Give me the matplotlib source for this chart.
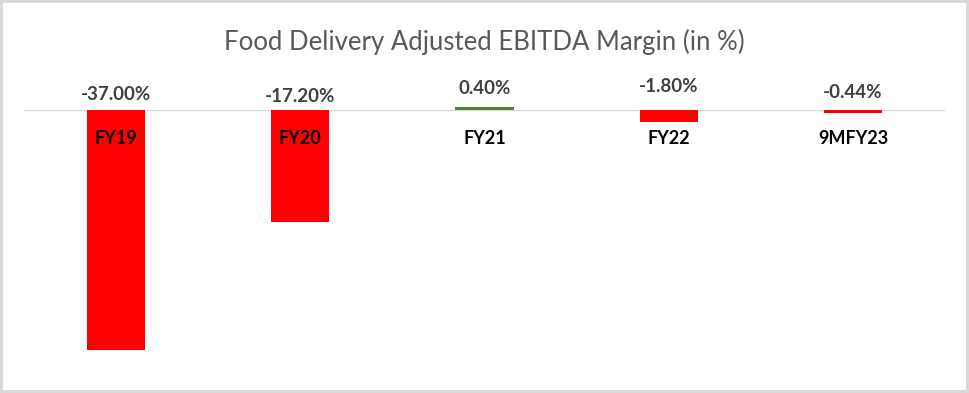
import matplotlib
matplotlib.use("Agg")
import matplotlib.pyplot as plt

# data
categories = ["FY19", "FY20", "FY21", "FY22", "9MFY23"]
margins = [-37.00, -17.20, 0.40, -1.80, -0.44]
value_labels = ["-37.00%", "-17.20%", "0.40%", "-1.80%", "-0.44%"]

# label placement (pixels above baseline), tuned to the reference
label_offsets = [15, 14, 21, 23, 17]

plt.rcParams['font.family'] = ['Lato', 'DejaVu Sans']

fig = plt.figure(figsize=(9.69, 3.93), dpi=100, edgecolor='#d9d9d9', linewidth=3)
W, H = 969, 393
# axis: x from 24 to 945 px, value 0 at y=110 px, -40 at y=369.5 px
ax = fig.add_axes([24 / W, (H - 369.5) / H, (945 - 24) / W, (369.5 - 110) / H])
ax.set_ylim(-40, 0)
ax.set_xlim(-0.5, len(categories) - 0.5)

colors = ['#548235' if v > 0 else '#ff0000' for v in margins]
bars = ax.bar(range(len(categories)), margins, width=0.315, color=colors, clip_on=False, zorder=3)
ax.axhline(0, color='#d9d9d9', linewidth=1, zorder=2)

for i, (lab, off) in enumerate(zip(value_labels, label_offsets)):
    ax.annotate(lab, (i, 0), xytext=(0, off * 72 / 100), textcoords='offset points',
                ha='center', va='center', fontsize=13.5, fontweight='bold', color='#404040')
    ax.annotate(categories[i], (i, 0), xytext=(0, -28 * 72 / 100), textcoords='offset points',
                ha='center', va='center', fontsize=13, fontweight='bold', color='black')

for s in ax.spines.values():
    s.set_visible(False)
ax.set_xticks([])
ax.set_yticks([])

fig.text(0.5, 1 - 42 / H, 'Food Delivery Adjusted EBITDA Margin (in %)', ha='center', va='center',
         fontsize=18.5, color='#595959')

fig.savefig("out.png", dpi=100)
